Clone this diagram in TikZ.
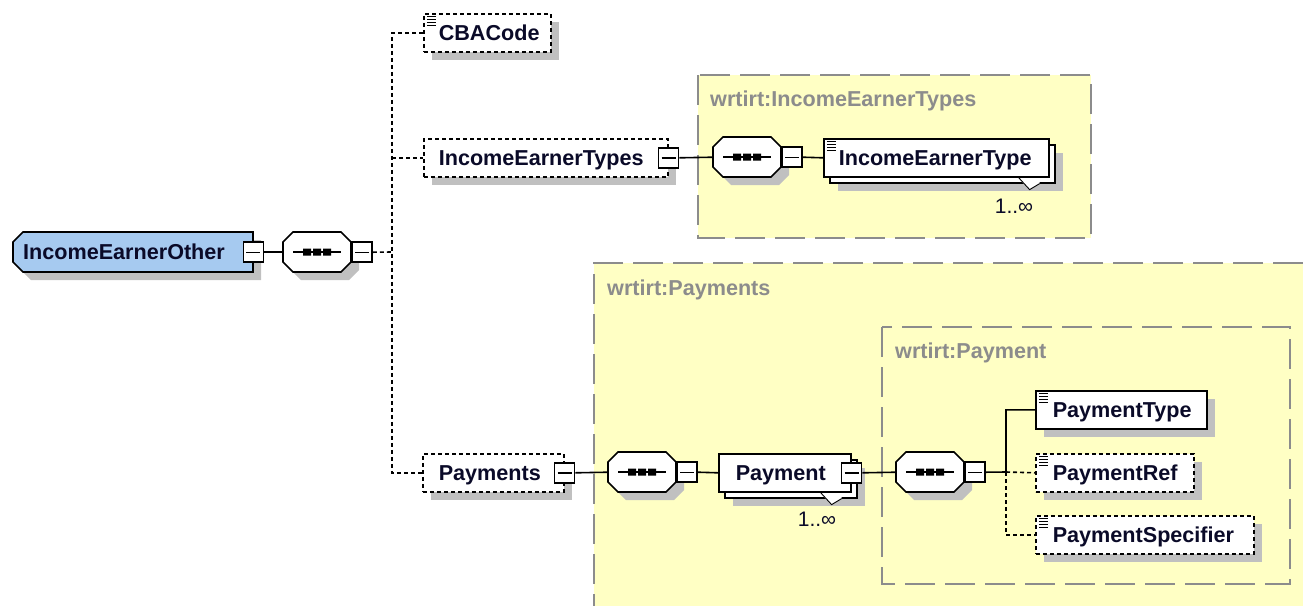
\documentclass[tikz,border=0pt]{standalone}
\usepackage{fontspec}
\setmainfont{Liberation Sans}
\usetikzlibrary{calc,shadows,backgrounds}
\definecolor{yel}{RGB}{255,255,196}
\definecolor{shd}{RGB}{192,192,192}
\definecolor{ieoblue}{RGB}{166,202,240}
\definecolor{lbl}{RGB}{140,140,140}
\definecolor{txt}{RGB}{10,10,40}
\tikzset{
 conn/.style={line width=1.6pt, draw=black},
 dconn/.style={conn, dash pattern=on 4pt off 3pt},
 grpbox/.style={fill=yel, draw=lbl, line width=1.7pt, dash pattern=on 30pt off 10pt},
 grpline/.style={draw=lbl, line width=1.7pt, dash pattern=on 30pt off 10pt},
 grplabel/.style={anchor=west, text=lbl, font=\fontsize{21.6}{24}\selectfont\bfseries, inner sep=0pt},
 elbase/.style={draw=black, line width=1.6pt, fill=white, anchor=north west, inner xsep=0pt, inner ysep=0pt,
   minimum height=38pt, align=left, text height=15.5pt, text depth=0pt,
   font=\fontsize{21.6}{24}\selectfont\bfseries, text=txt},
 elem/.style={elbase, drop shadow={shadow xshift=8pt, shadow yshift=-8pt, fill=shd, opacity=1}},
 rep/.style={elbase,
   general shadow={shadow xshift=14pt, shadow yshift=-14pt, fill=shd, opacity=1},
   general shadow={shadow xshift=6pt, shadow yshift=-6pt, fill=white, draw=black, line width=1.6pt, opacity=1}},
 opt/.style={dash pattern=on 4pt off 3pt},
 icon/.style={path picture={\foreach \k in {0,1,2,3}{\draw[solid, line width=1pt] ([xshift=3pt,yshift={-(2.5+3*\k)*1pt}]path picture bounding box.north west) -- ++(9,0);}}},
 rootel/.style={anchor=north west, inner xsep=0pt, inner ysep=0pt, minimum height=40pt, align=left,
   text height=15.5pt, text depth=0pt, font=\fontsize{21.6}{24}\selectfont\bfseries, text=txt},
 minus/.style={draw=black, line width=1.5pt, fill=white, minimum size=20pt, inner sep=0pt,
   path picture={\draw[solid, line width=1.4pt] ([xshift=3pt]path picture bounding box.west) -- ([xshift=-3pt]path picture bounding box.east);}},
 comp/.style={anchor=north west, minimum width=68pt, minimum height=40pt, inner sep=0pt},
 mult/.style={font=\fontsize{21}{24}\selectfont, text=txt, inner sep=0pt}
}
\newcommand\seqcomp[1]{%
 \begin{scope}[shift={(#1.north west)}]
  \fill[shd] (18,8) -- (66,8) -- (76,18) -- (76,38) -- (66,48) -- (18,48) -- (8,38) -- (8,18) -- cycle;
  \draw[line width=1.6pt, fill=white] (10,0) -- (58,0) -- (68,10) -- (68,30) -- (58,40) -- (10,40) -- (0,30) -- (0,10) -- cycle;
  \draw[line width=1.5pt] (10,20) -- (58,20);
  \fill (20,16.5) rectangle (28,23.5) (30,16.5) rectangle (38,23.5) (40,16.5) rectangle (48,23.5);
 \end{scope}}
\newcommand\repnotch[1]{%
 \fill[white] ($(#1.south east)+(-31,0.9)$) -- ($(#1.south east)+(-20,12)$) -- ($(#1.south east)+(-10,6)$) -- ($(#1.south east)+(-10,0.9)$) -- cycle;
 \draw[line width=0.9pt] ($(#1.south east)+(-31,0)$) -- ($(#1.south east)+(-20,12)$) -- ($(#1.south east)+(-10,6)$);}
\begin{document}
\begin{tikzpicture}[x=1pt,y=-1pt]
\useasboundingbox (0,0) rectangle (1303,606);
% group boxes
\filldraw[grpbox] (698,75) rectangle (1091,238);
\fill[yel] (594,263) rectangle (1303,606);
\draw[grpline] (1303,263) -- (594,263) -- (594,606);
\filldraw[grpbox] (882,327) rectangle (1290,584);
\node[grplabel] (l1) at (710,101) {wrtirt:IncomeEarnerTypes};
\node[grplabel] (l2) at (607,290) {wrtirt:Payments};
\node[grplabel] (l3) at (895,353) {wrtirt:Payment};
% root
\node[rootel, text width=240pt] (ieo) at (13,232) {\hspace*{10pt}IncomeEarnerOther};
\begin{pgfonlayer}{background}
 \begin{scope}[shift={(ieo.north west)}]
  \fill[shd] (18,8) -- (248,8) -- (248,48) -- (18,48) -- (8,38) -- (8,18) -- cycle;
  \draw[line width=1.6pt, fill=ieoblue] (10,0) -- (240,0) -- (240,40) -- (10,40) -- (0,30) -- (0,10) -- cycle;
 \end{scope}
\end{pgfonlayer}
\node[minus] (ieom) at (ieo.east) {};
\node[comp] (s1) at (283,232) {};
\seqcomp{s1}
\node[minus, anchor=west] (s1m) at (s1.east) {};
% first level
\node[elem, opt, icon, text width=127pt] (cba) at (423,13) {\hspace*{15pt}CBACode};
\node[elem, opt, text width=244pt] (iets) at (423,138) {\hspace*{15pt}IncomeEarnerTypes};
\node[minus] (ietsm) at (iets.east) {};
\node[comp] (s2) at (713,137) {};
\seqcomp{s2}
\node[minus, anchor=west] (s2m) at (s2.east) {};
\node[rep, icon, text width=225pt] (iet) at (823,138) {\hspace*{15pt}IncomeEarnerType};
\repnotch{iet}
\node[mult] (iet1) at (1014,206) {1..∞};
\node[elem, opt, text width=141pt] (pays) at (422,453) {\hspace*{16pt}Payments};
\node[minus] (paysm) at (pays.east) {};
\node[comp] (s3) at (608,452) {};
\seqcomp{s3}
\node[minus, anchor=west] (s3m) at (s3.east) {};
\node[rep, text width=132pt] (pay) at (718,453) {\hspace*{17pt}Payment};
\repnotch{pay}
\node[minus] (paym) at (pay.east) {};
\node[mult] (pay1) at (817,519) {1..∞};
\node[comp] (s4) at (896,452) {};
\seqcomp{s4}
\node[minus, anchor=west] (s4m) at (s4.east) {};
\node[elem, icon, text width=171pt] (ptype) at (1035,390) {\hspace*{17pt}PaymentType};
\node[elem, opt, icon, text width=158pt] (pref) at (1035,453) {\hspace*{17pt}PaymentRef};
\node[elem, opt, icon, text width=218pt] (pspec) at (1035,515) {\hspace*{17pt}PaymentSpecifier};
% connectors
\coordinate (j1) at (392,252);
\coordinate (j2) at (1006,472);
\draw[conn] (ieom.east) -- (s1.west);
\draw[dconn] (s1m.east) -- (j1);
\draw[dconn] (cba.west) -| (j1) |- (pays.west);
\draw[dconn] (j1 |- iets.west) -- (iets.west);
\draw[conn] (ietsm.east) -- (s2.west);
\draw[conn] (s2m.east) -- (iet.west);
\draw[conn] (paysm.east) -- (s3.west);
\draw[conn] (s3m.east) -- (pay.west);
\draw[conn] (paym.east) -- (s4.west);
\draw[conn] (s4m.east) -- (j2) |- (ptype.west);
\draw[dconn] (j2) -- (pref.west);
\draw[dconn] (j2) |- (pspec.west);
\end{tikzpicture}
\end{document}
